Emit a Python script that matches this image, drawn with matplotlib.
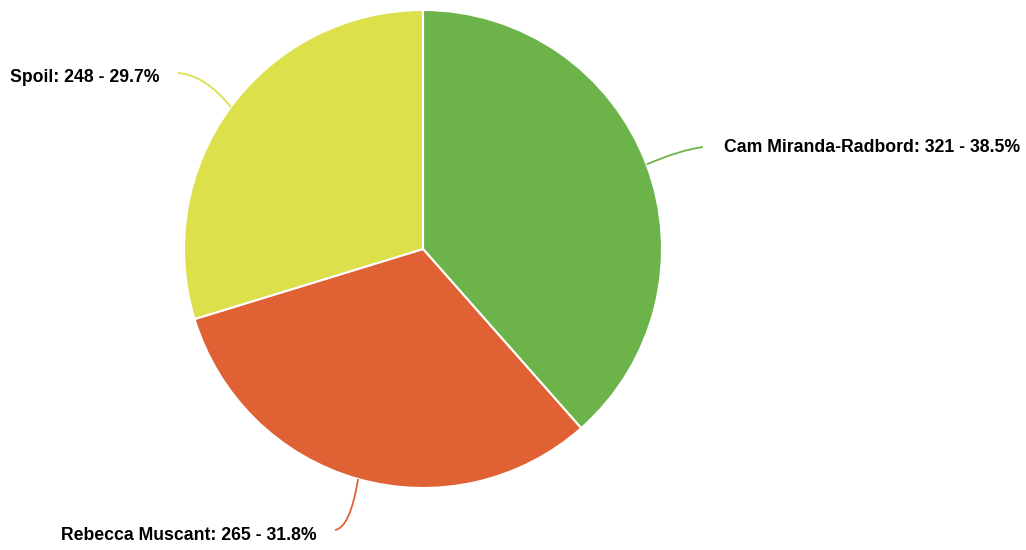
import matplotlib
matplotlib.use("Agg")
import matplotlib.pyplot as plt
from matplotlib.path import Path
from matplotlib.patches import PathPatch
import numpy as np

categories = ["Cam Miranda-Radbord", "Rebecca Muscant", "Spoil"]
values = [321, 265, 248]
percents = ["38.5%", "31.8%", "29.7%"]
colors = ["#6cb34a", "#e06133", "#dce04a"]

W, H = 1026, 550
fig = plt.figure(figsize=(W / 100, H / 100), dpi=100)
ax = fig.add_axes([0, 0, 1, 1])
ax.set_xlim(0, W)
ax.set_ylim(0, H)
ax.set_aspect("equal")
ax.axis("off")

cx, cy, r = 423, 301, 239
wedges, _ = ax.pie(values, colors=colors, startangle=90, counterclock=False,
                   center=(cx, cy), radius=r, frame=True,
                   wedgeprops=dict(edgecolor="white", linewidth=1.5))
ax.set_xlim(0, W)
ax.set_ylim(0, H)
ax.axis("off")

layout = {
    "Cam Miranda-Radbord": dict(ctrl=(680, 400), end=(703, 403), tx=724, ty=403, ha="left"),
    "Rebecca Muscant": dict(ctrl=(350, 22), end=(335, 20), tx=317, ty=15, ha="right"),
    "Spoil": dict(ctrl=(205, 475), end=(178, 477), tx=160, ty=472, ha="right"),
}

for w, cat, val, pct, col in zip(wedges, categories, values, percents, colors):
    mid = np.deg2rad((w.theta1 + w.theta2) / 2)
    p0 = (cx + r * np.cos(mid), cy + r * np.sin(mid))
    L = layout[cat]
    path = Path([p0, L["ctrl"], L["end"]], [Path.MOVETO, Path.CURVE3, Path.CURVE3])
    ax.add_patch(PathPatch(path, fill=False, edgecolor=col, linewidth=1.3))
    ax.text(L["tx"], L["ty"], f"{cat}: {val} - {pct}", ha=L["ha"], va="center",
            fontsize=12.7, fontweight="bold", family="Liberation Sans", color="black")

fig.savefig("out.png", dpi=100)
